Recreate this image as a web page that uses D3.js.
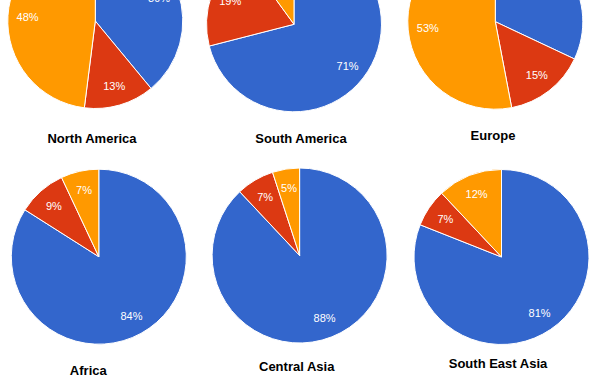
<!DOCTYPE html>
<head>
    <script src="https://cdn.jsdelivr.net/npm/d3@7"></script>
    <style>
        body { margin: 0; background: #fff; }
        svg { display: block; font-family: Arial, "Liberation Sans", sans-serif; }
    </style>
</head>

<body>
    <div id="pies"></div>
</body>

<script>
    // data (percent)
    const regions = ["North America", "South America", "Europe", "Africa", "Central Asia", "South East Asia"];
    const blueVals   = [39, 71, 32, 84, 88, 81];
    const redVals    = [13, 19, 15,  9,  7,  7];
    const orangeVals = [48, 10, 53,  7,  5, 12];

    // layout (each pie was a separate image, so the spots drift a bit)
    const centersX = [95.3, 294, 495.3, 98.8, 299.6, 501.5];
    const centersY = [21, 24.3, 21.7, 256.7, 255.5, 257];
    const titlesX  = [92, 301, 493, 88.3, 296.7, 498];
    const titlesY  = [142.7, 143, 140, 374.5, 371, 368];

    const width = 605, height = 376, radius = 87.5;
    const colors = ["#3366cc", "#dc3912", "#ff9900"];

    const svg = d3.select("#pies").append("svg")
        .attr("width", width)
        .attr("height", height);

    const pie = d3.pie().sort(null).value(d => d);
    const arc = d3.arc().innerRadius(0).outerRadius(radius);
    const labelArc = d3.arc().innerRadius(radius * 0.775).outerRadius(radius * 0.775);

    const charts = regions.map((name, i) => ({
        name: name,
        cx: centersX[i], cy: centersY[i],
        tx: titlesX[i], ty: titlesY[i],
        slices: pie([blueVals[i], redVals[i], orangeVals[i]])
    }));

    const g = svg.selectAll("g.chart").data(charts)
        .join("g").attr("class", "chart");

    g.append("g")
        .attr("transform", d => `translate(${d.cx},${d.cy})`)
        .call(sel => {
            sel.selectAll("path").data(d => d.slices)
                .join("path")
                .attr("d", arc)
                .attr("fill", (d, i) => colors[i])
                .attr("stroke", "#fff")
                .attr("stroke-width", 1);

            sel.selectAll("text").data(d => d.slices)
                .join("text")
                .attr("transform", d => `translate(${labelArc.centroid(d)})`)
                .attr("text-anchor", "middle")
                .attr("dy", "0.35em")
                .attr("fill", "#fff")
                .style("font-size", "11px")
                .text(d => d.data + "%");
        });

    g.append("text")
        .attr("x", d => d.tx)
        .attr("y", d => d.ty)
        .attr("text-anchor", "middle")
        .style("font-size", "13px")
        .style("font-weight", "bold")
        .attr("fill", "#000")
        .text(d => d.name);
</script>
</html>
